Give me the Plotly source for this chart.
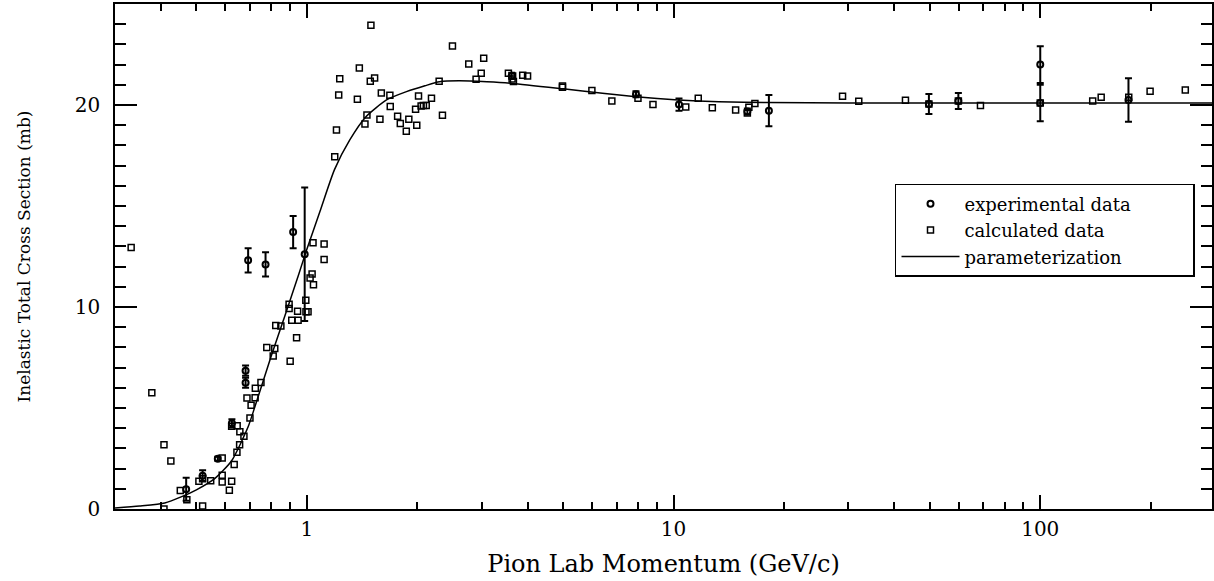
import plotly.graph_objects as go

# ---- experimental data (momentum GeV/c, cross section mb, error mb)
exp_x = [0.469, 0.520, 0.572, 0.625, 0.681, 0.681, 0.692, 0.772, 0.918, 0.987,
         3.62, 7.9, 10.35, 15.9, 18.2, 49.7, 59.8, 100, 100, 174]
exp_y = [0.98, 1.65, 2.49, 4.24, 6.25, 6.85, 12.31, 12.11, 13.71, 12.61,
         21.45, 20.53, 20.02, 19.68, 19.72, 20.05, 20.2, 22.0, 20.1, 20.25]
exp_err = [0.57, 0.27, 0.10, 0.20, 0.25, 0.25, 0.60, 0.60, 0.80, 3.30,
           0.15, 0.15, 0.30, 0.15, 0.77, 0.50, 0.40, 0.91, 0.90, 1.08]

# ---- calculated data
calc_x = [0.332, 0.378, 0.408, 0.408, 0.426, 0.452, 0.471, 0.508, 0.520, 0.520,
          0.547, 0.588, 0.588, 0.588, 0.615, 0.624, 0.624, 0.634, 0.645, 0.646,
          0.656, 0.657, 0.674, 0.687, 0.700, 0.705, 0.723, 0.724, 0.750, 0.778,
          0.810, 0.818, 0.823, 0.850, 0.895, 0.895, 0.901, 0.910, 0.938, 0.947,
          0.944, 0.994, 0.995, 1.008, 1.021, 1.034, 1.043, 1.040, 1.115, 1.115,
          1.192, 1.205, 1.222, 1.230, 1.374, 1.391, 1.441, 1.459, 1.490, 1.496,
          1.531, 1.583, 1.597, 1.685, 1.689, 1.769, 1.799, 1.868, 1.898, 1.980,
          1.995, 2.017, 2.050, 2.080, 2.117, 2.188, 2.296, 2.344, 2.496, 2.765,
          2.895, 2.990, 3.037, 3.546, 3.642, 3.630, 3.660, 3.880, 4.000, 4.98,
          4.98, 5.99, 6.79, 8.0, 8.79, 10.8, 11.68, 12.76, 14.77, 16.05,
          16.67, 15.9, 28.9, 32.0, 42.9, 49.7, 59.8, 68.7, 100, 139,
          146.6, 174.3, 199.3, 248.6]
calc_y = [12.94, 5.76, 3.18, 0.00, 2.38, 0.91, 0.46, 1.37, 0.15, 1.50,
          1.40, 2.52, 1.67, 1.34, 0.93, 1.37, 4.10, 2.20, 2.81, 4.12,
          3.18, 3.83, 3.60, 5.50, 4.50, 5.14, 5.51, 5.98, 6.26, 7.99,
          7.57, 7.94, 9.08, 9.06, 10.13, 9.93, 7.31, 9.35, 8.48, 9.35,
          9.79, 10.33, 9.77, 9.77, 11.44, 11.63, 11.10, 13.18, 13.12, 12.35,
          17.44, 18.76, 20.50, 21.30, 20.28, 21.83, 19.06, 19.50, 21.17, 23.95,
          21.34, 19.29, 20.59, 20.48, 19.92, 19.44, 19.09, 18.70, 19.29, 19.79,
          19.00, 20.45, 19.95, 19.97, 19.97, 20.33, 21.17, 19.49, 22.92, 22.03,
          21.27, 21.57, 22.31, 21.57, 21.44, 21.29, 21.16, 21.47, 21.44, 20.94,
          20.88, 20.72, 20.20, 20.33, 20.03, 19.90, 20.33, 19.87, 19.75, 19.89,
          20.08, 19.60, 20.43, 20.18, 20.23, 20.05, 20.20, 19.97, 20.10, 20.20,
          20.38, 20.38, 20.68, 20.74]

# ---- parameterization curve
par_x = [0.30, 0.35, 0.41, 0.456, 0.50, 0.562, 0.624, 0.692, 0.722, 0.80,
         0.87, 0.95, 1.0, 1.085, 1.19, 1.31, 1.45, 1.65, 1.87, 2.1,
         2.3, 2.6, 3.1, 3.64, 5.0, 6.4, 7.9, 10.3, 13.3, 18,
         30, 60, 120, 300]
par_y = [0.05, 0.15, 0.30, 0.61, 0.95, 1.52, 2.39, 4.07, 5.06, 7.57,
         9.52, 11.6, 12.85, 14.7, 16.8, 18.27, 19.42, 20.25, 20.66, 20.95,
         21.15, 21.2, 21.15, 21.07, 20.8, 20.58, 20.41, 20.25, 20.16, 20.12,
         20.1, 20.1, 20.1, 20.1]

x_major = [1, 10, 100]
x_major_text = ["1", "10", "100"]
x_minor = [0.3, 0.4, 0.5, 0.6, 0.7, 0.8, 0.9, 2, 3, 4, 5, 6, 7, 8, 9,
           20, 30, 40, 50, 60, 70, 80, 90, 200]

FONT = "DejaVu Serif"
PAD = "\u00a0" * 10

fig = go.Figure()
fig.add_trace(go.Scatter(
    x=exp_x, y=exp_y, mode="markers", name="experimental data" + PAD,
    marker=dict(symbol="circle-open", size=6, color="black", line=dict(width=2, color="black")),
    error_y=dict(type="data", array=exp_err, visible=True, color="black", thickness=2, width=3.5),
))
fig.add_trace(go.Scatter(
    x=calc_x, y=calc_y, mode="markers", name="calculated data",
    marker=dict(symbol="square-open", size=6, color="black", line=dict(width=1.5, color="black")),
))
fig.add_trace(go.Scatter(
    x=par_x, y=par_y, mode="lines", name="parameterization",
    line=dict(color="black", width=1.5, shape="spline", smoothing=0.6),
))

fig.update_layout(
    width=1214, height=581,
    margin=dict(l=115, r=0, t=4, b=72),
    paper_bgcolor="white", plot_bgcolor="white",
    font=dict(family=FONT, color="black", size=20),
    showlegend=True,
    legend=dict(
        x=0.9845, y=0.6436, xanchor="right", yanchor="top",
        bgcolor="white", bordercolor="black", borderwidth=1.5,
        font=dict(family=FONT, size=18, color="black"),
        itemwidth=58, indentation=0,
    ),
)
fig.update_xaxes(
    type="log", range=[-0.5229, 2.4683],
    tickmode="array", tickvals=x_major, ticktext=x_major_text,
    ticks="inside", ticklen=14, tickwidth=1.5, tickcolor="black",
    minor=dict(tickmode="array", tickvals=x_minor, ticks="inside", ticklen=7,
               tickwidth=1.5, tickcolor="black", showgrid=False),
    showline=True, linecolor="black", linewidth=1.5, mirror="allticks",
    showgrid=False, zeroline=False,
    tickfont=dict(family=FONT, size=20), ticklabelstandoff=1,
    title=dict(text="Pion Lab Momentum (GeV/c)", font=dict(family=FONT, size=24), standoff=15),
)
fig.update_yaxes(
    range=[0, 25], tickmode="linear", tick0=0, dtick=10,
    ticks="inside", ticklen=22, tickwidth=1.5, tickcolor="black",
    minor=dict(dtick=1, ticks="inside", ticklen=11, tickwidth=1.5, tickcolor="black", showgrid=False),
    showline=True, linecolor="black", linewidth=1.5, mirror="allticks",
    showgrid=False, zeroline=False,
    tickfont=dict(family=FONT, size=20), ticklabelstandoff=9,
    title=dict(text="Inelastic Total Cross Section (mb)", font=dict(family=FONT, size=17), standoff=40),
)

fig.write_html("out.html")
